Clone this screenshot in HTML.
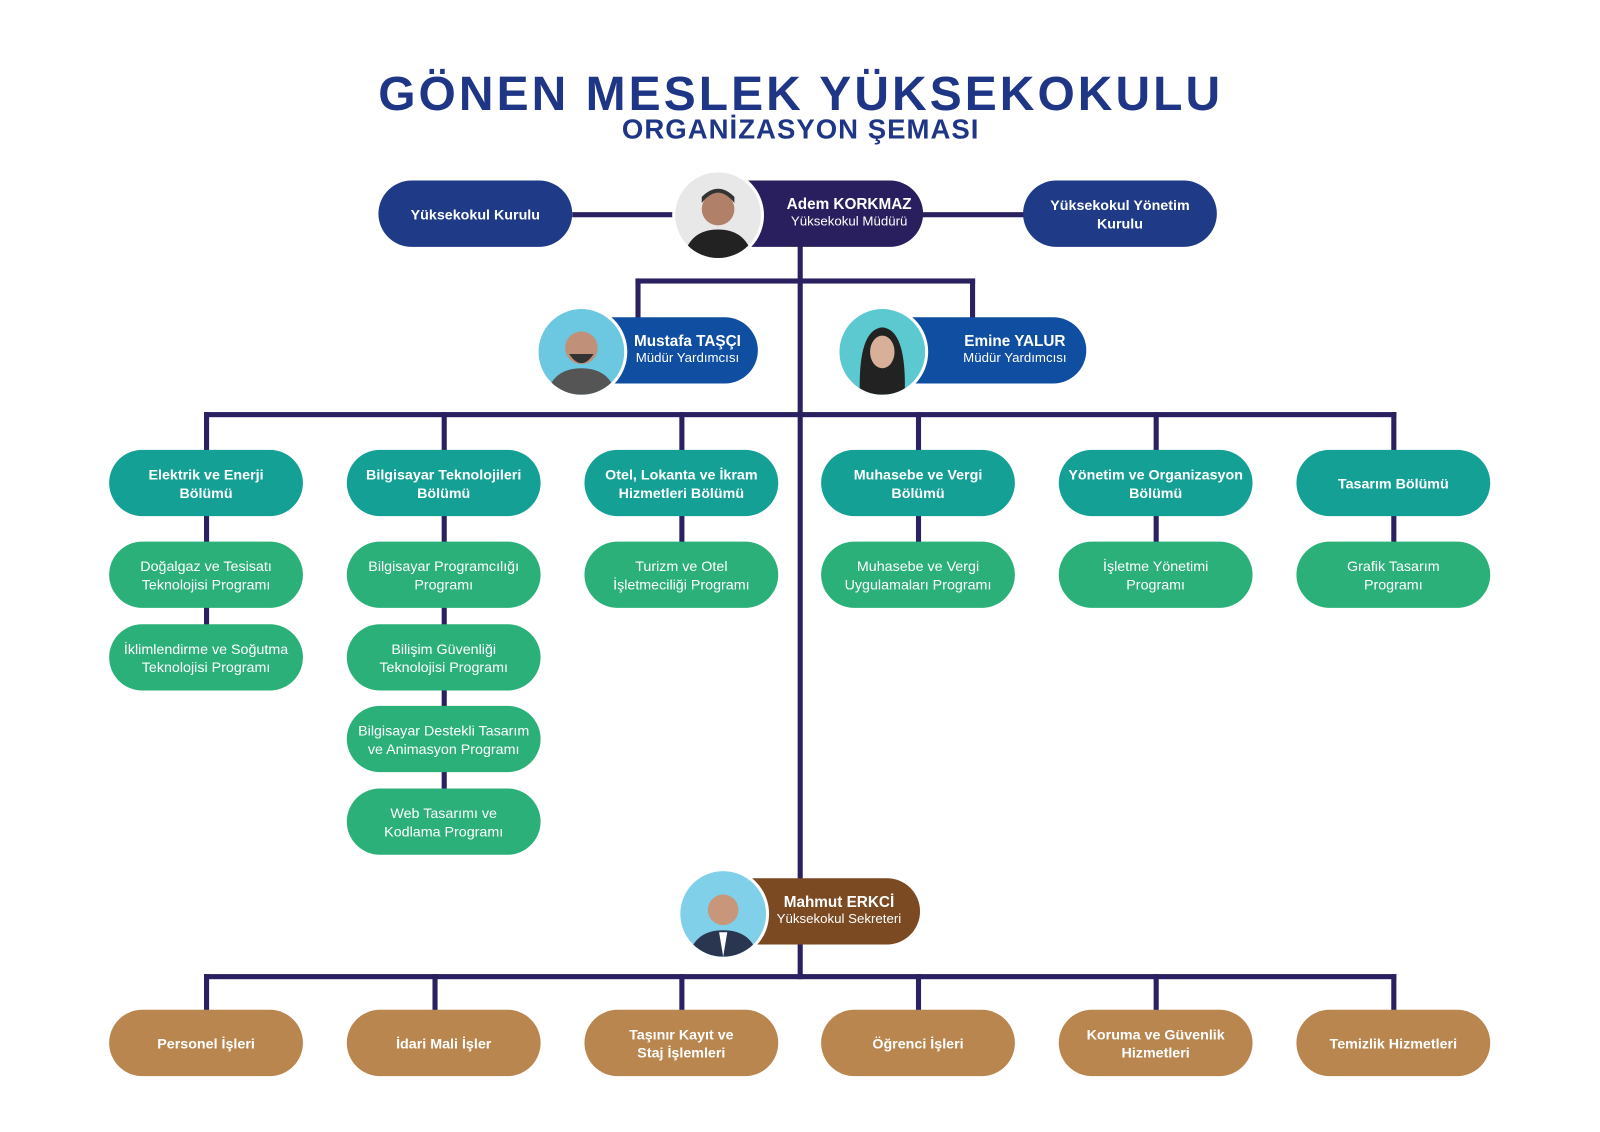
<!DOCTYPE html>
<html><head><meta charset="utf-8"><style>
body{margin:0;width:1600px;height:1132px;background:#fff;position:relative;overflow:hidden;font-family:"Liberation Sans",sans-serif}
#w{position:absolute;left:0;top:0;width:1570px;height:1110px;transform:scale(1.02);transform-origin:0 0}
.t{position:absolute;left:0;width:1570px;text-align:center;color:#1f3585;font-weight:bold}
.p{position:absolute;width:190px;height:65px;border-radius:33px;display:flex;align-items:center;justify-content:center;text-align:center;color:#fff;font-size:14px;line-height:18px}
.b{font-weight:bold}
.ln{position:absolute;background:#2a2160}
.c{position:absolute;border-radius:50%;overflow:hidden;border:3px solid #fff}
.n{position:absolute;color:#fff;font-size:13px;line-height:16px;text-align:center}
.n b{font-size:15px}
</style></head><body><div id="w">
<div class="t" style="top:64px;font-size:47px;letter-spacing:3px">GÖNEN MESLEK YÜKSEKOKULU</div>
<div class="t" style="top:112px;font-size:27px;letter-spacing:1px">ORGANİZASYON ŞEMASI</div>

<!-- lines -->
<div class="ln" style="left:561px;top:208px;width:110px;height:5px"></div>
<div class="ln" style="left:900px;top:208px;width:105px;height:5px"></div>
<div class="ln" style="left:782px;top:240px;width:5px;height:720px"></div>
<div class="ln" style="left:623px;top:273px;width:333px;height:5px"></div>
<div class="ln" style="left:623px;top:273px;width:5px;height:40px"></div>
<div class="ln" style="left:951px;top:273px;width:5px;height:40px"></div>
<div class="ln" style="left:200px;top:404px;width:1169px;height:5px"></div>
<div class="ln" style="left:200px;top:955px;width:1169px;height:5px"></div>
<div class="ln" style="left:200px;top:404px;width:5px;height:250px"></div>
<div class="ln" style="left:433px;top:404px;width:5px;height:410px"></div>
<div class="ln" style="left:200px;top:955px;width:5px;height:40px"></div>
<div class="ln" style="left:424px;top:955px;width:5px;height:40px"></div>
<div class="ln" style="left:666px;top:404px;width:5px;height:150px"></div>
<div class="ln" style="left:666px;top:955px;width:5px;height:40px"></div>
<div class="ln" style="left:898px;top:404px;width:5px;height:150px"></div>
<div class="ln" style="left:898px;top:955px;width:5px;height:40px"></div>
<div class="ln" style="left:1131px;top:404px;width:5px;height:150px"></div>
<div class="ln" style="left:1131px;top:955px;width:5px;height:40px"></div>
<div class="ln" style="left:1364px;top:404px;width:5px;height:150px"></div>
<div class="ln" style="left:1364px;top:955px;width:5px;height:40px"></div>

<!-- top -->
<div class="p b" style="left:371px;top:177px;background:#1f3a86">Yüksekokul Kurulu</div>
<div class="p b" style="left:1003px;top:177px;background:#1f3a86">Yüksekokul Yönetim<br>Kurulu</div>
<div class="p" style="left:700px;top:177px;width:205px;background:#2a1f5e"></div>
<div class="n" style="left:760px;top:193px;width:145px"><b>Adem KORKMAZ</b><br>Yüksekokul Müdürü</div>
<div class="c" style="left:659px;top:166px;width:84px;height:84px;background:#e8e8e8"><svg width="84" height="84"><circle cx="42" cy="36" r="16" fill="#b08068"/><path d="M26 30 Q42 10 58 30 L58 24 Q42 8 26 24Z" fill="#333"/><path d="M8 84 Q14 56 42 56 Q70 56 76 84Z" fill="#222"/></svg></div>

<div class="p" style="left:565px;top:311px;width:178px;background:#0f4ea0"></div>
<div class="n" style="left:605px;top:327px;width:138px"><b>Mustafa TAŞÇI</b><br>Müdür Yardımcısı</div>
<div class="c" style="left:525px;top:300px;width:84px;height:84px;background:#6cc7e0"><svg width="84" height="84"><circle cx="42" cy="38" r="16" fill="#c09078"/><path d="M30 44 Q42 62 54 44Z" fill="#333"/><path d="M8 84 Q14 58 42 58 Q70 58 76 84Z" fill="#555"/></svg></div>

<div class="p" style="left:861px;top:311px;width:204px;background:#0f4ea0"></div>
<div class="n" style="left:925px;top:327px;width:140px"><b>Emine YALUR</b><br>Müdür Yardımcısı</div>
<div class="c" style="left:820px;top:300px;width:84px;height:84px;background:#5cc8d0"><svg width="84" height="84"><path d="M20 84 Q18 20 42 18 Q66 20 64 84Z" fill="#222"/><ellipse cx="42" cy="42" rx="12" ry="16" fill="#d8b09a"/></svg></div>

<!-- departments -->
<div class="p b" style="left:107px;top:441px;background:#15a096">Elektrik ve Enerji<br>Bölümü</div>
<div class="p b" style="left:340px;top:441px;background:#15a096">Bilgisayar Teknolojileri<br>Bölümü</div>
<div class="p b" style="left:573px;top:441px;background:#15a096">Otel, Lokanta ve İkram<br>Hizmetleri Bölümü</div>
<div class="p b" style="left:805px;top:441px;background:#15a096">Muhasebe ve Vergi<br>Bölümü</div>
<div class="p b" style="left:1038px;top:441px;background:#15a096">Yönetim ve Organizasyon<br>Bölümü</div>
<div class="p b" style="left:1271px;top:441px;background:#15a096">Tasarım Bölümü</div>

<div class="p" style="left:107px;top:531px;background:#2bb07a">Doğalgaz ve Tesisatı<br>Teknolojisi Programı</div>
<div class="p" style="left:107px;top:612px;background:#2bb07a">İklimlendirme ve Soğutma<br>Teknolojisi Programı</div>
<div class="p" style="left:340px;top:531px;background:#2bb07a">Bilgisayar Programcılığı<br>Programı</div>
<div class="p" style="left:340px;top:612px;background:#2bb07a">Bilişim Güvenliği<br>Teknolojisi Programı</div>
<div class="p" style="left:340px;top:692px;background:#2bb07a">Bilgisayar Destekli Tasarım<br>ve Animasyon Programı</div>
<div class="p" style="left:340px;top:773px;background:#2bb07a">Web Tasarımı ve<br>Kodlama Programı</div>
<div class="p" style="left:573px;top:531px;background:#2bb07a">Turizm ve Otel<br>İşletmeciliği Programı</div>
<div class="p" style="left:805px;top:531px;background:#2bb07a">Muhasebe ve Vergi<br>Uygulamaları Programı</div>
<div class="p" style="left:1038px;top:531px;background:#2bb07a">İşletme Yönetimi<br>Programı</div>
<div class="p" style="left:1271px;top:531px;background:#2bb07a">Grafik Tasarım<br>Programı</div>

<!-- secretary -->
<div class="p" style="left:703px;top:861px;width:199px;background:#7b4a22"></div>
<div class="n" style="left:750px;top:877px;width:145px"><b>Mahmut ERKCİ</b><br>Yüksekokul Sekreteri</div>
<div class="c" style="left:664px;top:851px;width:84px;height:84px;background:#7fd0e8"><svg width="84" height="84"><circle cx="42" cy="38" r="15" fill="#c8967a"/><path d="M8 84 Q14 58 42 58 Q70 58 76 84Z" fill="#2a3550"/><path d="M38 60 L46 60 L42 84Z" fill="#fff"/></svg></div>

<!-- bottom -->
<div class="p b" style="left:107px;top:990px;background:#b8864e">Personel İşleri</div>
<div class="p b" style="left:340px;top:990px;background:#b8864e">İdari Mali İşler</div>
<div class="p b" style="left:573px;top:990px;background:#b8864e">Taşınır Kayıt ve<br>Staj İşlemleri</div>
<div class="p b" style="left:805px;top:990px;background:#b8864e">Öğrenci İşleri</div>
<div class="p b" style="left:1038px;top:990px;background:#b8864e">Koruma ve Güvenlik<br>Hizmetleri</div>
<div class="p b" style="left:1271px;top:990px;background:#b8864e">Temizlik Hizmetleri</div>
</div></body></html>
